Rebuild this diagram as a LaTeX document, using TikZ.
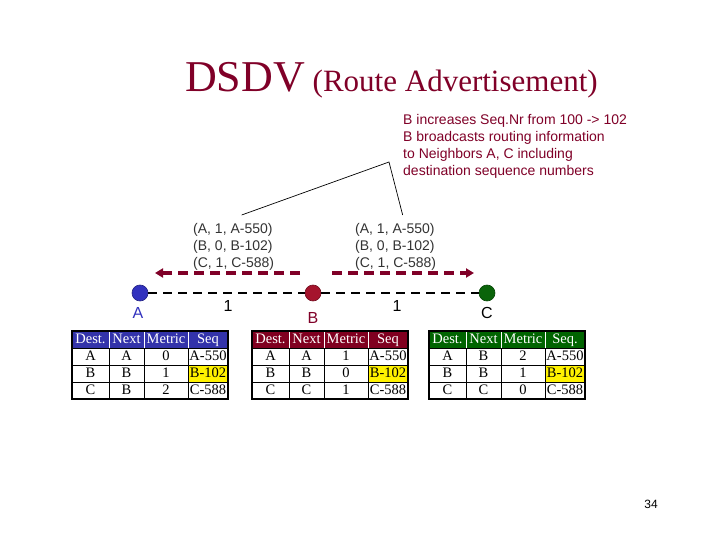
\documentclass[tikz,border=0pt]{standalone}
\usepackage{fontspec}
\setmainfont{Liberation Serif}
\newfontfamily\arialf{Liberation Sans}
\usetikzlibrary{arrows.meta}
\definecolor{mar}{RGB}{128,0,40}
\definecolor{headA}{RGB}{51,51,170}
\definecolor{headB}{RGB}{128,0,32}
\definecolor{headC}{RGB}{0,100,0}
\definecolor{nodeA}{RGB}{50,50,190}
\definecolor{nodeB}{RGB}{165,20,45}
\definecolor{nodeC}{RGB}{10,100,10}
\tikzset{
  hd/.style={text=white, font=\fontsize{14.5}{14.5}\selectfont, inner sep=0, text height=10, text depth=3},
  cell/.style={text=black, font=\fontsize{14.5}{14.5}\selectfont, inner sep=0, text height=10, text depth=3},
  netnode/.style={circle, inner sep=0, minimum size=16, line width=0.6},
  lab/.style={font=\arialf\fontsize{16}{16}\selectfont, inner sep=0},
  tup/.style={font=\arialf\fontsize{14}{17}\selectfont, text=black!80, align=left, inner sep=0, anchor=north west},
  link/.style={line width=2.8, dash pattern=on 9 off 6},
  bcast/.style={draw=mar, line width=3.5, dash pattern=on 10 off 6, -{Triangle[length=8,width=9]}},
}
\newcommand{\dtable}[5]{%
\begin{scope}[shift={(#2,0)}]
\fill[#3] (0,331) rectangle (156,348);
\fill[yellow] (116,365) rectangle (156,382);
\draw[white, line width=0.8] (37,331) -- (37,348) (72,331) -- (72,348) (116,331) -- (116,348);
\draw[black, line width=0.8] (0,348) -- (156,348) (0,365) -- (156,365) (0,382) -- (156,382)
  (37,348) -- (37,399) (72,348) -- (72,399) (116,348) -- (116,399);
\draw[black, line width=2.2] (0,331) rectangle (156,399);
\node[hd] (#1-h1) at (18.5,339.5) {Dest.};
\node[hd] (#1-h2) at (54.5,339.5) {Next};
\node[hd] (#1-h3) at (94,339.5) {Metric};
\node[hd] (#1-h4) at (136,339.5) {#4};
\foreach \d/\n/\m/\s [count=\i] in {#5} {
  \node[cell] (#1-\i-1) at (18.5,{339.5+17*\i}) {\d};
  \node[cell] (#1-\i-2) at (54.5,{339.5+17*\i}) {\n};
  \node[cell] (#1-\i-3) at (94,{339.5+17*\i}) {\m};
  \node[cell] (#1-\i-4) at (136,{339.5+17*\i}) {\s};
}
\end{scope}}
\begin{document}
\begin{tikzpicture}[x=1pt,y=-1pt]
\useasboundingbox[fill=white] (0,0) rectangle (720,540);
% title
\node[anchor=base west, inner sep=0, text=mar] (title) at (185,92)
  {\fontsize{44}{44}\selectfont DSDV\fontsize{31}{31}\selectfont\ (Route Advertisement)};
% annotation
\node[anchor=north west, align=left, inner sep=0, text=mar, font=\arialf\fontsize{14}{17}\selectfont] (note) at (403,114)
  {B increases Seq.Nr from 100 -> 102\\B broadcasts routing information\\to Neighbors A, C including\\destination sequence numbers};
\coordinate (apex) at (389,162);
% tuples
\node[tup] (t1) at (193,223) {(A, 1, A-550)\\(B, 0, B-102)\\(C, 1, C-588)};
\node[tup] (t2) at (355,223) {(A, 1, A-550)\\(B, 0, B-102)\\(C, 1, C-588)};
\draw[line width=0.7] ([shift={(8,-8)}]t1.north) -- (apex) -- ([shift={(7,-8)}]t2.north);
% broadcast arrows
\coordinate (l1) at (300,273);
\coordinate (l2) at (155,273);
\coordinate (r1) at (332,273);
\coordinate (r2) at (474,273);
\draw[bcast] (l1) -- (l2);
\draw[bcast] (r1) -- (r2);
% network nodes
\node[netnode, fill=nodeA, draw=nodeA!70!black] (A) at (140,293) {};
\node[netnode, fill=nodeB, draw=nodeB!70!black] (B) at (313,293) {};
\node[netnode, fill=nodeC, draw=nodeC!70!black] (C) at (487,293) {};
\draw[link] (A) -- (B);
\draw[link] (B) -- (C);
\node[lab, text=nodeA] (lA) at (138,313) {A};
\node[lab, text=mar] (lB) at (313,318) {B};
\node[lab, text=black] (lC) at (487,313) {C};
\node[lab] (w1) at (228,306) {1};
\node[lab] (w2) at (397,306) {1};
% tables
\dtable{TA}{72}{headA}{Seq}{A/A/0/A-550, B/B/1/B-102, C/B/2/C-588}
\dtable{TB}{252}{headB}{Seq}{A/A/1/A-550, B/B/0/B-102, C/C/1/C-588}
\dtable{TC}{429}{headC}{Seq.}{A/B/2/A-550, B/B/1/B-102, C/C/0/C-588}
% page number
\node[font=\arialf\fontsize{12}{12}\selectfont, inner sep=0] (pg) at (651,504) {34};
\end{tikzpicture}
\end{document}
